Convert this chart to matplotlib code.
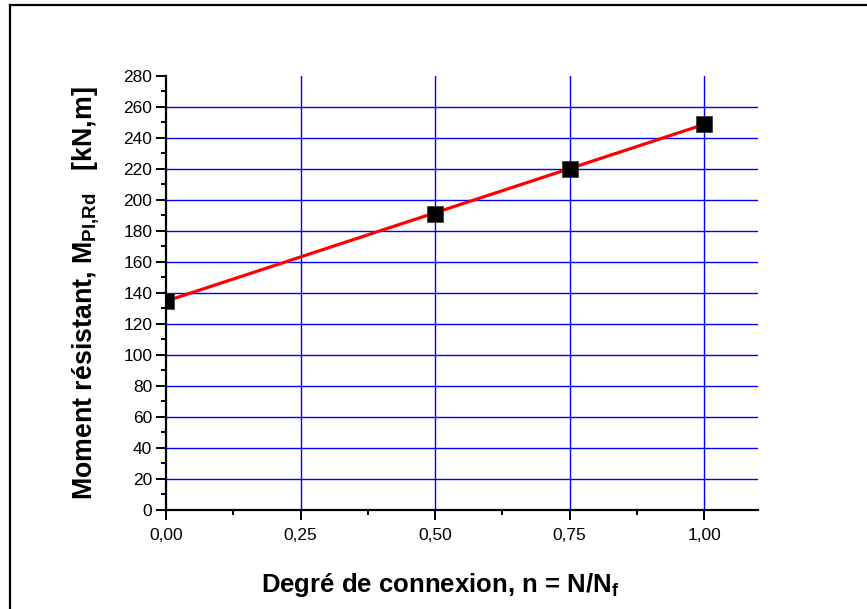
import numpy as np
import matplotlib
matplotlib.use("Agg")
import matplotlib.pyplot as plt
from matplotlib.ticker import MultipleLocator, FuncFormatter
from matplotlib.lines import Line2D

plt.rcParams['font.family'] = ['Liberation Sans', 'DejaVu Sans']
plt.rcParams['mathtext.fontset'] = 'custom'
plt.rcParams['mathtext.rm'] = 'Liberation Sans'
plt.rcParams['mathtext.bf'] = 'Liberation Sans:bold'

# Data
connexion = [0.0, 0.5, 0.75, 1.0]
moment = [135, 191, 220, 249]
x_ticks = [0.0, 0.25, 0.5, 0.75, 1.0]
y_ticks = list(range(0, 281, 20))

fig = plt.figure(figsize=(8.67, 6.09), dpi=100)
ax = fig.add_axes([0.1915, 0.1626, 0.6828, 0.7131])

# Linear fit line
coef = np.polyfit(connexion, moment, 1)
xf = np.array([min(connexion), max(connexion)])
ax.plot(xf, np.polyval(coef, xf), color='#FF0000', lw=2.3, zorder=3,
        solid_capstyle='round')
ax.plot(connexion, moment, ls='none', marker='s', ms=11.5, color='black',
        markeredgecolor='#333333', markeredgewidth=0.5, zorder=4)

ax.set_xlim(0, 1.1)
ax.set_ylim(0, 280)
ax.set_xticks(x_ticks)
ax.set_yticks(y_ticks)
ax.xaxis.set_minor_locator(MultipleLocator(0.125))
ax.yaxis.set_minor_locator(MultipleLocator(10))
ax.xaxis.set_major_formatter(FuncFormatter(lambda v, p: f"{v:.2f}".replace('.', ',')))

# Grid lines (blue)
for yv in y_ticks[1:-1]:
    ax.axhline(yv, color='#0000FF', lw=1.0, zorder=1)
for xv in x_ticks[1:]:
    ax.axvline(xv, color='#0000FF', lw=1.0, zorder=1)

for s in ['top', 'right']:
    ax.spines[s].set_visible(False)
for s in ['left', 'bottom']:
    ax.spines[s].set_linewidth(1.6)
    ax.spines[s].set_zorder(5)

ax.tick_params(which='major', direction='out', length=7, width=1.4, labelsize=12.5, pad=3)
ax.tick_params(which='minor', direction='out', length=3.6, width=1.4)
ax.tick_params(axis='x', which='major', pad=6)

ax.set_xlabel(r'Degré de connexion, n = N/N$_{\mathbf{f}}$', fontsize=18.5,
              fontweight='bold')
ax.xaxis.set_label_coords(0.463, -0.14)
ax.set_ylabel(r'Moment résistant, M$_{\mathbf{Pl{,}Rd}}$   [kN,m]', fontsize=19.3,
              fontweight='bold', labelpad=16)

# Figure frame (top and left edges visible)
fig.add_artist(Line2D([10/867, 10/867], [0, 1 - 5/609], transform=fig.transFigure,
                      color='black', lw=1.6))
fig.add_artist(Line2D([10/867, 1], [1 - 5/609, 1 - 5/609], transform=fig.transFigure,
                      color='black', lw=1.6))

fig.savefig('out.png', dpi=100)
